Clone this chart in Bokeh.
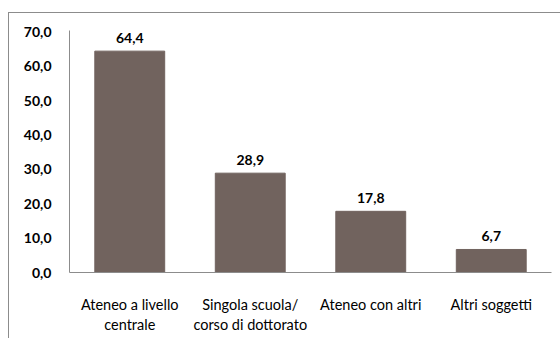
from bokeh.plotting import figure
from bokeh.models import ColumnDataSource, FixedTicker, CustomJSTickFormatter, LabelSet
from bokeh.core.properties import value
from bokeh.embed import file_html
from bokeh.resources import INLINE

categories = ["Ateneo a livello\ncentrale", "Singola scuola/\ncorso di dottorato", "Ateneo con altri", "Altri soggetti"]
values = [64.4, 28.9, 17.8, 6.7]
labels = ["64,4", "28,9", "17,8", "6,7"]
y_ticks = [0, 10, 20, 30, 40, 50, 60, 70]

FONT = "Lato"

src = ColumnDataSource(dict(cat=categories, val=values, lab=labels))

p = figure(width=552, height=326, x_range=categories, y_range=(0, 70.4),
           output_backend="svg", toolbar_location=None,
           min_border_left=60, min_border_right=10, min_border_top=17, min_border_bottom=67,
           margin=(12, 0, 0, 8))
p.styles = {"border-left": "1px solid #8c8c8c", "border-top": "1px solid #8c8c8c"}
p.outline_line_color = None
p.background_fill_color = "white"
p.border_fill_color = "white"
p.grid.visible = False

p.vbar(x="cat", top="val", width=0.58, source=src, fill_color="#71635e", line_color="#71635e")

lbl = LabelSet(x="cat", y="val", text="lab", source=src, text_align="center", text_baseline="bottom",
               y_offset=8, text_font=value(FONT), text_font_style="bold", text_font_size="14px",
               text_color="#000000")
p.add_layout(lbl)

p.yaxis.ticker = FixedTicker(ticks=y_ticks)
p.yaxis.formatter = CustomJSTickFormatter(code="return tick.toFixed(1).replace('.', ',');")
p.yaxis.major_tick_line_color = None
p.yaxis.minor_tick_line_color = None
p.yaxis.axis_line_color = "#8c8c8c"
p.yaxis.major_label_text_font = FONT
p.yaxis.major_label_text_font_style = "bold"
p.yaxis.major_label_text_font_size = "14px"
p.yaxis.major_label_text_color = "#000000"
p.yaxis.major_label_standoff = 12

p.xaxis.major_tick_line_color = None
p.xaxis.minor_tick_line_color = None
p.xaxis.axis_line_color = "#8c8c8c"
p.xaxis.major_label_text_font = FONT
p.xaxis.major_label_text_font_size = "14.5px"
p.xaxis.major_label_text_color = "#000000"
p.xaxis.major_label_standoff = 17

open("out.html", "w").write(file_html(p, INLINE))
